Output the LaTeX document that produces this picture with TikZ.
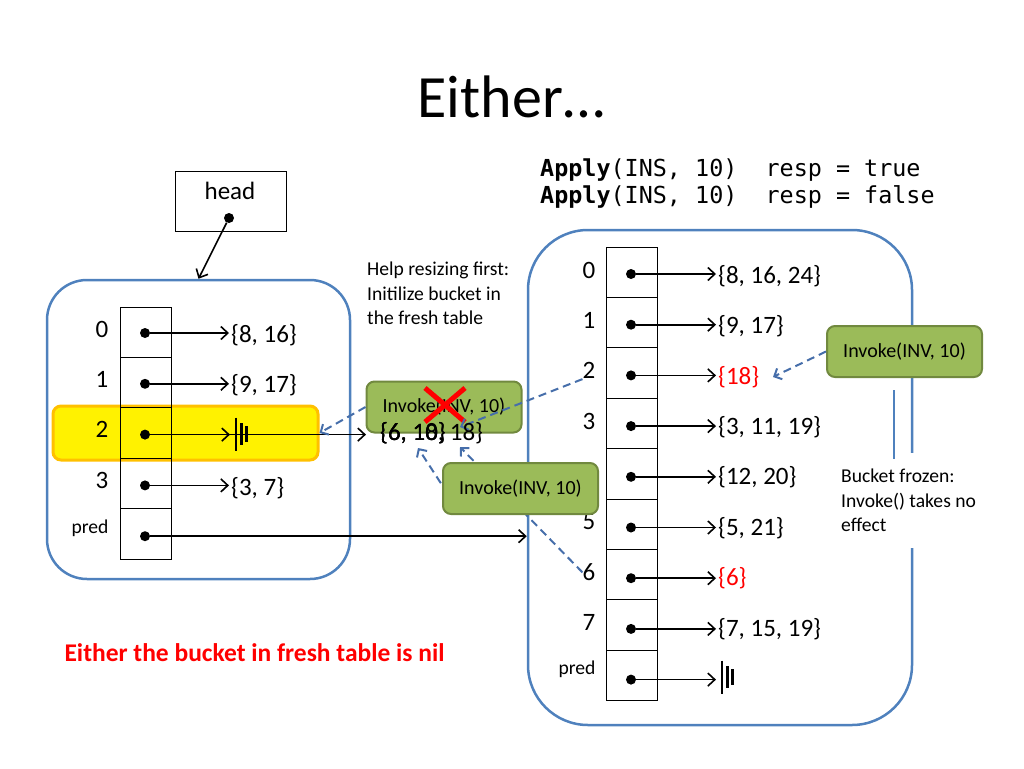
\documentclass[tikz,border=0pt]{standalone}
\usepackage{fontspec}
\setmainfont{Carlito}
\setmonofont{DejaVu Sans Mono}
\usetikzlibrary{arrows.meta}

\definecolor{tableline}{RGB}{79,129,189}
\definecolor{invokefill}{RGB}{155,187,89}
\definecolor{invokeline}{RGB}{113,137,63}
\definecolor{hlorange}{RGB}{255,192,0}
\definecolor{helpline}{RGB}{70,110,170}

\newcommand{\bigtxt}{\fontsize{25}{30}\selectfont}
\newcommand{\smalltxt}{\fontsize{19.6}{24.5}\selectfont}

\tikzset{
  cell/.style={draw, line width=1pt, minimum width=51pt, minimum height=50.4pt, inner sep=0pt},
  ptrdot/.style={circle, fill, inner sep=0pt, minimum size=10pt},
  ptr/.style={line width=1.6pt, -{Straight Barb[length=7pt,width=13pt]}},
  idx/.style={font=\bigtxt, inner sep=0pt},
  bucket/.style={font=\bigtxt, anchor=west, inner sep=2pt},
  tablebox/.style={draw=tableline, line width=2.5pt},
  invoke/.style={fill=invokefill, draw=invokeline, line width=2pt, rounded corners=8pt,
    minimum width=155pt, minimum height=51pt, font=\fontsize{20}{24}\selectfont},
  helps/.style={draw=helpline, line width=2pt, dash pattern=on 8pt off 5pt,
    -{Straight Barb[length=6pt,width=12pt]}},
  xmark/.style={draw=red, line width=5pt},
  nilmark/.pic={\draw[line width=2.2pt] (0,-16.5) -- (0,16.5) (5.5,-11) -- (5.5,11) (10.5,-8) -- (10.5,8);}
}

\begin{document}
\begin{tikzpicture}[x=1pt, y=-1pt]
\useasboundingbox (0,0) rectangle (1024,768);

\node (title) at (511,97) {\fontsize{60}{72}\selectfont Either…};
\node[anchor=west, align=left, inner sep=0pt, font=\ttfamily\fontsize{23.4}{27}\selectfont] (apply) at (540,184)
  {\textbf{Apply}(INS,~10)~~resp~=~true\\\textbf{Apply}(INS,~10)~~resp~=~false};

% old table
\node[draw=hlorange, fill=yellow, line width=3pt, rounded corners=8pt,
  minimum width=265pt, minimum height=54pt] (hl) at (185.5,433) {};
\node[tablebox, rounded corners=40pt, minimum width=303pt, minimum height=299pt] (oldtab) at (198.5,429.5) {};

\node[draw, line width=1pt, minimum width=111pt, minimum height=60pt] (head) at (230.5,201) {};
\node[font=\bigtxt] (headlbl) at (230,191) {head};
\node[ptrdot] (headdot) at (229,218) {};
\draw[ptr] (headdot) -- (oldtab.north);

\foreach \i in {0,...,4} {
  \node[cell] (L\i) at (145.5,{332.2+50.4*\i}) {};
  \node[ptrdot] (Ld\i) at (145,{333+50.8*\i}) {};
}
\foreach \i in {0,...,3}
  \node[idx] (Li\i) at (102,{329+50.4*\i}) {\i};
\node[idx, font=\smalltxt] (Lipred) at (90,528) {pred};

\node[bucket] (Lb0) at (229,335) {\{8, 16\}};
\node[bucket] (Lb1) at (229,385) {\{9, 17\}};
\node[bucket] (Lb3) at (229,488) {\{3, 7\}};
\foreach \i in {0,1,3}
  \draw[ptr] (Ld\i) -- (Ld\i -| Lb\i.west);

\coordinate (Lnil) at (236,434);
\pic at (Lnil) {nilmark};
\draw[ptr, shorten >=6pt] (Ld2) -- (Ld2 -| Lnil);
\coordinate (newhd) at (366,433);
\draw[ptr] (Ld2) -- (Ld2 -| newhd);

% fresh table
\node[tablebox, rounded corners=60pt, minimum width=384pt, minimum height=495pt] (newtab) at (720,477.5) {};
\draw[ptr] (Ld4) -- (Ld4 -| newtab.west);

\foreach \i in {0,...,8} {
  \node[cell] (R\i) at (631.5,{272.2+50.4*\i}) {};
  \node[ptrdot] (Rd\i) at (631,{274+50.7*\i}) {};
}
\foreach \i in {0,1,2,3,5,6,7}
  \node[idx] (Ri\i) at (589,{270+50.4*\i}) {\i};
\node[idx, font=\smalltxt] (Ripred) at (577,669) {pred};

\foreach \i/\col/\txt in {0/black/{8, 16, 24}, 1/black/{9, 17}, 2/red/{18}, 3/black/{3, 11, 19},
    4/black/{12, 20}, 5/black/{5, 21}, 6/red/{6}, 7/black/{7, 15, 19}} {
  \node[bucket, text=\col] (Rb\i) at (716,{276+50.4*\i}) {\{\txt\}};
  \draw[ptr] (Rd\i) -- (Rd\i -| Rb\i.west);
}
\coordinate (Rnil) at (722,677);
\pic at (Rnil) {nilmark};
\draw[ptr, shorten >=6pt] (Rd8) -- (Rd8 -| Rnil);

% helping invokes
\node[invoke] (invA) at (444,407) {Invoke(INV, 10)};
\draw[xmark] ([shift={(-19,-19)}]invA.center) -- ([shift={(21,15)}]invA.center);
\draw[xmark] ([shift={(-19,15)}]invA.center) -- ([shift={(21,-19)}]invA.center);

\coordinate (tipA) at (460,427);
\coordinate (tipB) at (460,447);
\coordinate (tipC) at (418,448);
\coordinate (srcB) at (455,505);
\coordinate (tipR) at (773,377);
\draw[helps] (Ri2.south west) -- (tipA);
\draw[helps] (invA.west) -- (hl.east);
\draw[helps] (Ri6.west) -- (tipB);
\draw[helps] (srcB) -- (tipC);

\node[invoke] (invB) at (520.5,488.5) {Invoke(INV, 10)};
\node[invoke] (invC) at (904.5,351.5) {Invoke(INV, 10)};
\draw[helps] (invC.west) -- (tipR);

\node[bucket] (new1) at (378,433) {\{6, 10\}};
\node[bucket] (new2) at (378,433) {\{6, 18\}};
\node[bucket] (new3) at (378,433) {\{6, 10, 18\}};

\node[anchor=north west, align=left, inner sep=0pt, font=\smalltxt] (help) at (367,262)
  {Help resizing first:\\Initilize bucket in\\the fresh table};

\node[anchor=north west, align=left, fill=white, inner xsep=6pt, inner ysep=16pt, font=\smalltxt] (frozen) at (835,453)
  {Bucket frozen:\\Invoke() takes no\\effect};
\coordinate (frozentop) at (894,390);
\draw[tablebox] (frozentop) -- ++(0,69);

\node[anchor=west, text=red, font=\bfseries\fontsize{25.5}{30}\selectfont] (note) at (61,653)
  {Either the bucket in fresh table is nil};

\end{tikzpicture}
\end{document}
